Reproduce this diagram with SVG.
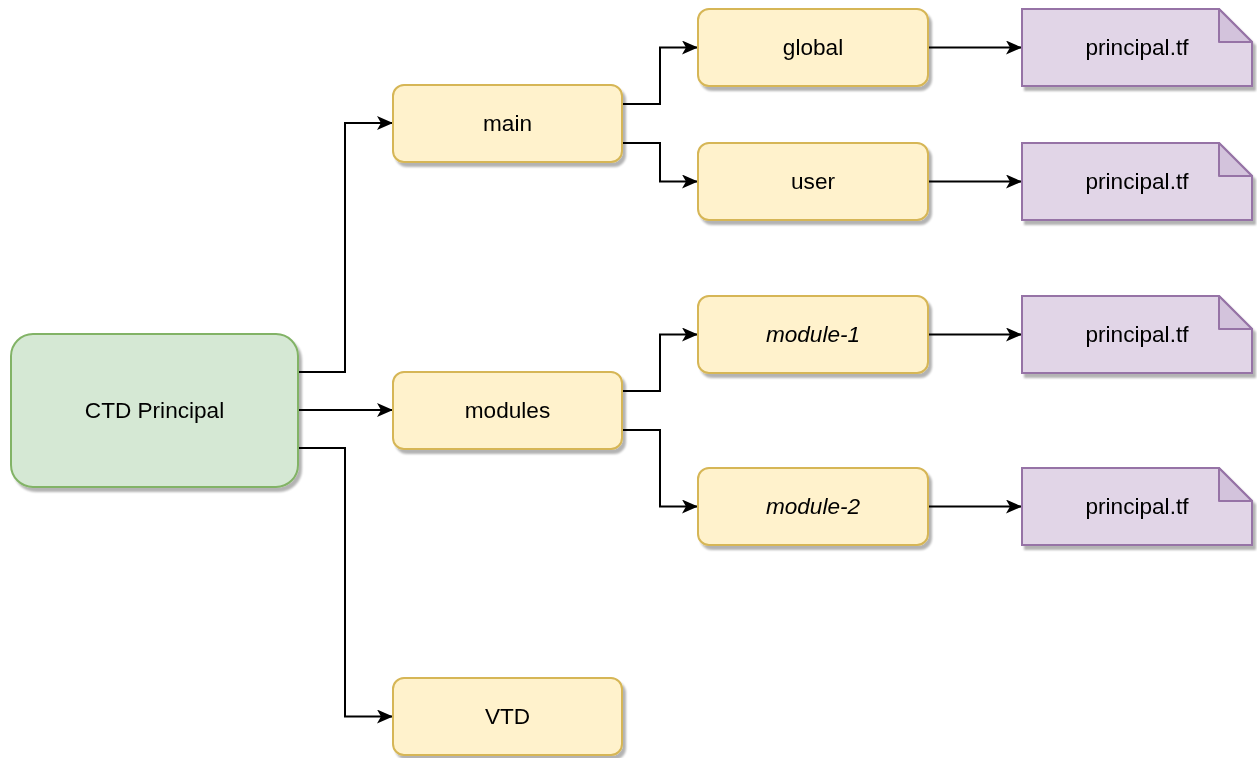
<svg xmlns="http://www.w3.org/2000/svg" width="1257" height="758" viewBox="0 0 1257 758">
<style>
.lbl{font-family:"Liberation Sans",Arial,sans-serif;font-size:22.6px;fill:#000;text-anchor:middle;dominant-baseline:central}
.it{font-style:italic}
.green{fill:#d5e8d4;stroke:#82b366;stroke-width:2}
.yel{fill:#fff2cc;stroke:#d6b656;stroke-width:2}
.pur{fill:#e1d5e7;stroke:#9673a6;stroke-width:2}
.fold{fill:#d3c3dc;stroke:#9673a6;stroke-width:2;stroke-linejoin:round}
.edge{fill:none;stroke:#000;stroke-width:2;marker-end:url(#arr)}
</style>
<defs>
<filter id="sh" x="-10%" y="-10%" width="130%" height="140%">
<feGaussianBlur in="SourceAlpha" stdDeviation="0.8"/>
<feOffset dx="3" dy="4" result="o"/>
<feComponentTransfer><feFuncA type="linear" slope="0.3"/></feComponentTransfer>
<feMerge><feMergeNode/><feMergeNode in="SourceGraphic"/></feMerge>
</filter>
<marker id="arr" viewBox="0 0 16 14" refX="16" refY="7" markerWidth="16" markerHeight="14" markerUnits="userSpaceOnUse" orient="auto">
<path d="M0,0 L16,7 L0,14 L4,7 Z" fill="#000"/>
</marker>
</defs>
<rect width="1257" height="758" fill="#fff"/>
<g id="connectors">
<path class="edge" d="M298,372 H345 V123 H393"/>
<path class="edge" d="M298,410 H393"/>
<path class="edge" d="M298,448 H345 V716.5 H393"/>
<path class="edge" d="M622,104 H660 V47.5 H698"/>
<path class="edge" d="M622,143 H660 V181.5 H698"/>
<path class="edge" d="M622,391 H660 V334.5 H698"/>
<path class="edge" d="M622,430 H660 V506.5 H698"/>
<path class="edge" d="M928,47.5 H1022"/>
<path class="edge" d="M928,181.5 H1022"/>
<path class="edge" d="M928,334.5 H1022"/>
<path class="edge" d="M928,506.5 H1022"/>
</g>
<g id="ctd" filter="url(#sh)"><rect class="green" x="11" y="334" width="287" height="153" rx="22"/><text class="lbl" x="154.5" y="410.5">CTD Principal</text></g>
<g id="main" filter="url(#sh)"><rect class="yel" x="393" y="85" width="229" height="77" rx="11"/><text class="lbl" x="507.5" y="123.5">main</text></g>
<g id="modules" filter="url(#sh)"><rect class="yel" x="393" y="372" width="229" height="77" rx="11"/><text class="lbl" x="507.5" y="410.5">modules</text></g>
<g id="vtd" filter="url(#sh)"><rect class="yel" x="393" y="678" width="229" height="77" rx="11"/><text class="lbl" x="507.5" y="716.5">VTD</text></g>
<g id="global" filter="url(#sh)"><rect class="yel" x="698" y="9" width="230" height="77" rx="11"/><text class="lbl" x="813" y="47.5">global</text></g>
<g id="user" filter="url(#sh)"><rect class="yel" x="698" y="143" width="230" height="77" rx="11"/><text class="lbl" x="813" y="181.5">user</text></g>
<g id="module1" filter="url(#sh)"><rect class="yel" x="698" y="296" width="230" height="77" rx="11"/><text class="lbl it" x="813" y="334.5">module-1</text></g>
<g id="module2" filter="url(#sh)"><rect class="yel" x="698" y="468" width="230" height="77" rx="11"/><text class="lbl it" x="813" y="506.5">module-2</text></g>
<g id="file1" filter="url(#sh)"><path class="pur" d="M1022,9 H1219 L1252,42 V86 H1022 Z"/><path class="fold" d="M1219,9 V42 H1252 Z"/><text class="lbl" x="1137" y="47.5">principal.tf</text></g>
<g id="file2" filter="url(#sh)"><path class="pur" d="M1022,143 H1219 L1252,176 V220 H1022 Z"/><path class="fold" d="M1219,143 V176 H1252 Z"/><text class="lbl" x="1137" y="181.5">principal.tf</text></g>
<g id="file3" filter="url(#sh)"><path class="pur" d="M1022,296 H1219 L1252,329 V373 H1022 Z"/><path class="fold" d="M1219,296 V329 H1252 Z"/><text class="lbl" x="1137" y="334.5">principal.tf</text></g>
<g id="file4" filter="url(#sh)"><path class="pur" d="M1022,468 H1219 L1252,501 V545 H1022 Z"/><path class="fold" d="M1219,468 V501 H1252 Z"/><text class="lbl" x="1137" y="506.5">principal.tf</text></g>
</svg>
